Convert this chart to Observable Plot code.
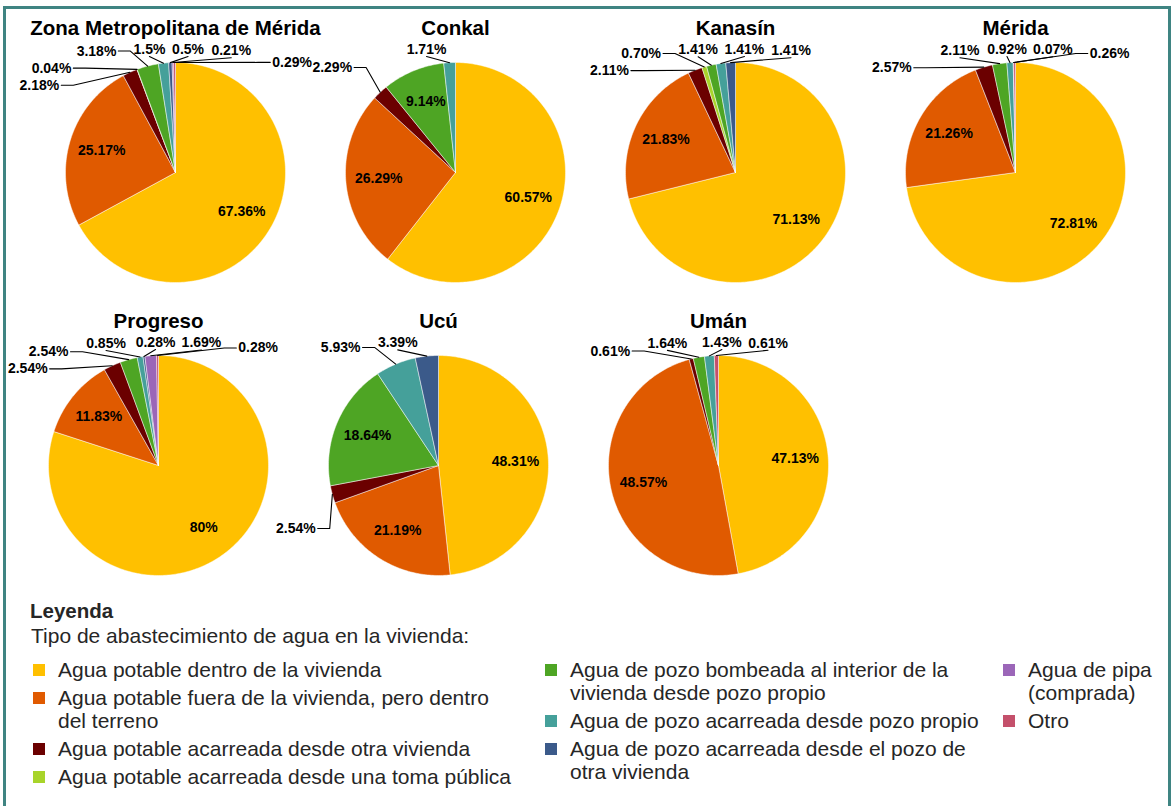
<!DOCTYPE html>
<html><head><meta charset="utf-8">
<script src="https://cdn.jsdelivr.net/npm/d3@7"></script>
<script src="https://cdn.jsdelivr.net/npm/@observablehq/plot@0.6"></script>
<style>
html,body{margin:0;padding:0;background:#fff;overflow:hidden;}
body{width:1174px;height:806px;position:relative;font-family:"Liberation Sans",Arial,Helvetica,sans-serif;}
#frame{position:absolute;left:3px;top:6px;width:1162px;height:830px;border:3px solid #3f8482;}
.row{position:absolute;display:flex;}
.row svg{flex:none;}
#row1{left:35px;top:22px;}
#row2{left:18px;top:315px;}
#legend{position:absolute;left:0;top:0;width:1174px;height:806px;color:#262626;pointer-events:none;}
.lt{position:absolute;left:30px;top:599px;font-weight:bold;font-size:20.5px;line-height:23px;}
.ls{position:absolute;left:31px;top:624px;font-size:21px;line-height:23px;}
.col{position:absolute;top:658px;}
.item{display:flex;align-items:flex-start;margin-bottom:5px;font-size:21px;line-height:23px;white-space:nowrap;}
.sw{width:12px;height:12px;flex:none;margin-top:6px;margin-right:13px;}
</style></head>
<body>
<div id="frame"></div>
<div class="row" id="row1"></div>
<div class="row" id="row2"></div>
<div id="legend"></div>
<script>
// ---------- data ----------
const categories = [
  "Agua potable dentro de la vivienda",
  "Agua potable fuera de la vivienda, pero dentro del terreno",
  "Agua potable acarreada desde otra vivienda",
  "Agua potable acarreada desde una toma pública",
  "Agua de pozo bombeada al interior de la vivienda desde pozo propio",
  "Agua de pozo acarreada desde pozo propio",
  "Agua de pozo acarreada desde el pozo de otra vivienda",
  "Agua de pipa (comprada)",
  "Otro"
];
const colors = ["#FFC000", "#E05A00", "#6B0000", "#A8D42A", "#4EA524", "#45A09A", "#3B5A8A", "#9B66B8", "#C4506B"];
const legendLines = [
  ["Agua potable dentro de la vivienda"],
  ["Agua potable fuera de la vivienda, pero dentro", "del terreno"],
  ["Agua potable acarreada desde otra vivienda"],
  ["Agua potable acarreada desde una toma pública"],
  ["Agua de pozo bombeada al interior de la", "vivienda desde pozo propio"],
  ["Agua de pozo acarreada desde pozo propio"],
  ["Agua de pozo acarreada desde el pozo de", "otra vivienda"],
  ["Agua de pipa", "(comprada)"],
  ["Otro"]
];
const legendColumns = [[0, 1, 2, 3], [4, 5, 6], [7, 8]];
const legendTitle = "Leyenda";
const legendSubtitle = "Tipo de abastecimiento de agua en la vivienda:";

const municipios = ["Zona Metropolitana de Mérida", "Conkal", "Kanasín", "Mérida", "Progreso", "Ucú", "Umán"];
// values (%) in category order; null = category absent
const zmm      = ["67.36", "25.17", "2.18", "0.04", "3.18", "1.5",  "0.5",  "0.21", "0.29"];
const conkal   = ["60.57", "26.29", "2.29", null,   "9.14", "1.71", null,   null,   null];
const kanasin  = ["71.13", "21.83", "2.11", "0.70", "1.41", "1.41", "1.41", null,   null];
const merida   = ["72.81", "21.26", "2.57", null,   "2.11", "0.92", null,   "0.07", "0.26"];
const progreso = ["80",    "11.83", "2.54", null,   "2.54", "0.85", "0.28", "1.69", "0.28"];
const ucu      = ["48.31", "21.19", "2.54", null,   "18.64","5.93", "3.39", null,   null];
const uman     = ["47.13", "48.57", "0.61", null,   "1.64", "1.43", null,   null,   "0.61"];
const series = [zmm, conkal, kanasin, merida, progreso, ucu, uman];

// ---------- layout constants ----------
const R = 110, RX = 125, RY = 123, SQ = 4, LEAD = 14, TITLE_Y = -144, HH = 8.5;
const FONT = "'Liberation Sans', Arial, sans-serif";
const ctx = document.createElement("canvas").getContext("2d");
ctx.font = "bold 14px " + FONT;
const tw = t => ctx.measureText(t).width;

function place(o) {
  const s = Math.sin(o.a), c = Math.cos(o.a);
  o.x = RX * Math.sign(s) * Math.pow(Math.abs(s), 2 / SQ);
  o.y = -RY * Math.sign(c) * Math.pow(Math.abs(c), 2 / SQ);
  o.anchor = s < -0.2 ? "end" : s > 0.2 ? "start" : "middle";
  if (o.anchor === "end") { o.x0 = o.x - o.w - 3; o.x1 = o.x + LEAD; }
  else if (o.anchor === "start") { o.x0 = o.x - LEAD; o.x1 = o.x + o.w + 3; }
  else { o.x0 = o.x - o.w / 2 - 3; o.x1 = o.x + o.w / 2 + 3; }
  o.y0 = o.y - HH; o.y1 = o.y + HH;
}
const overlap = (p, q) => p.x0 < q.x1 && q.x0 < p.x1 && p.y0 < q.y1 && q.y0 < p.y1;

function pie(name, vals) {
  const items = [];
  vals.forEach((v, i) => { if (v != null) items.push({cat: categories[i], v: +v, text: v + "%"}); });
  const arcs = d3.pie().sort(null).value(d => d.v)(items);
  const poly = [], ins = [], outs = [];
  arcs.forEach((a, k) => {
    const span = a.endAngle - a.startAngle;
    const n = Math.max(1, Math.ceil(span / (Math.PI / 180)));
    poly.push({k, cat: a.data.cat, x: 0, y: 0});
    for (let j = 0; j <= n; j++) {
      const t = a.startAngle + span * j / n;
      poly.push({k, cat: a.data.cat, x: R * Math.sin(t), y: -R * Math.cos(t)});
    }
    poly.push({k, cat: a.data.cat, x: 0, y: 0});
    const mid = (a.startAngle + a.endAngle) / 2;
    if (span / (2 * Math.PI) >= 0.07) {
      ins.push({text: a.data.text, x: 0.7 * R * Math.sin(mid), y: -0.7 * R * Math.cos(mid)});
    } else {
      const m = mid > Math.PI ? mid - 2 * Math.PI : mid;
      outs.push({text: a.data.text, m, a: m, w: tw(a.data.text)});
    }
  });
  outs.sort((p, q) => p.m - q.m);
  for (let it = 0; it < 6000; it++) {
    outs.forEach(place);
    let any = false;
    for (let i = 0; i < outs.length; i++)
      for (let j = i + 1; j < outs.length; j++)
        if (overlap(outs[i], outs[j])) { outs[i].a -= 0.003; outs[j].a += 0.003; any = true; }
    if (!any) break;
  }
  outs.forEach(place);
  const leaders = [];
  outs.forEach((o, k) => {
    const ex = R * Math.sin(o.m), ey = -R * Math.cos(o.m);
    const pts = o.anchor === "end" ? [[o.x + 2, o.y], [o.x + LEAD, o.y]]
              : o.anchor === "start" ? [[o.x - 2, o.y], [o.x - LEAD, o.y]]
              : [[o.x, o.y + 7]];
    pts.push([ex, ey]);
    pts.forEach(([x, y]) => leaders.push({k, x, y}));
  });
  const txt = {x: "x", y: "y", text: "text", fontSize: 14, fontWeight: "bold", fill: "#000"};
  return Plot.plot({
    width: 280, height: 290, margin: 0,
    x: {domain: [-140, 140], axis: null},
    y: {domain: [-150, 140], reverse: true, axis: null},
    color: {type: "ordinal", domain: categories, range: colors},
    style: {fontFamily: FONT, background: "transparent", overflow: "visible"},
    marks: [
      Plot.line(poly, {x: "x", y: "y", z: "k", fill: "cat", stroke: "#fff", strokeWidth: 0.6, strokeOpacity: 0.8, curve: "linear"}),
      Plot.line(leaders, {x: "x", y: "y", z: "k", stroke: "#000", strokeWidth: 1.1, curve: "linear"}),
      Plot.text(ins, txt),
      Plot.text(outs.filter(o => o.anchor === "end"), {...txt, textAnchor: "end"}),
      Plot.text(outs.filter(o => o.anchor === "start"), {...txt, textAnchor: "start"}),
      Plot.text(outs.filter(o => o.anchor === "middle"), {...txt, textAnchor: "middle"}),
      Plot.text([{text: name, x: 0, y: TITLE_Y}], {...txt, fontSize: 20.5})
    ]
  });
}

const row1 = document.getElementById("row1"), row2 = document.getElementById("row2");
municipios.forEach((m, i) => (i < 4 ? row1 : row2).appendChild(pie(m, series[i])));

// ---------- legend ----------
const lg = document.getElementById("legend");
const t1 = document.createElement("div"); t1.className = "lt"; t1.textContent = legendTitle; lg.appendChild(t1);
const t2 = document.createElement("div"); t2.className = "ls"; t2.textContent = legendSubtitle; lg.appendChild(t2);
const colLeft = [33, 545, 1003];
legendColumns.forEach((idxs, c) => {
  const col = document.createElement("div");
  col.className = "col"; col.style.left = colLeft[c] + "px";
  idxs.forEach(i => {
    const it = document.createElement("div"); it.className = "item";
    const sw = document.createElement("div"); sw.className = "sw"; sw.style.background = colors[i];
    const tx = document.createElement("div");
    legendLines[i].forEach((line, j) => { if (j) tx.appendChild(document.createElement("br")); tx.appendChild(document.createTextNode(line)); });
    it.appendChild(sw); it.appendChild(tx); col.appendChild(it);
  });
  lg.appendChild(col);
});
</script>
</body></html>
